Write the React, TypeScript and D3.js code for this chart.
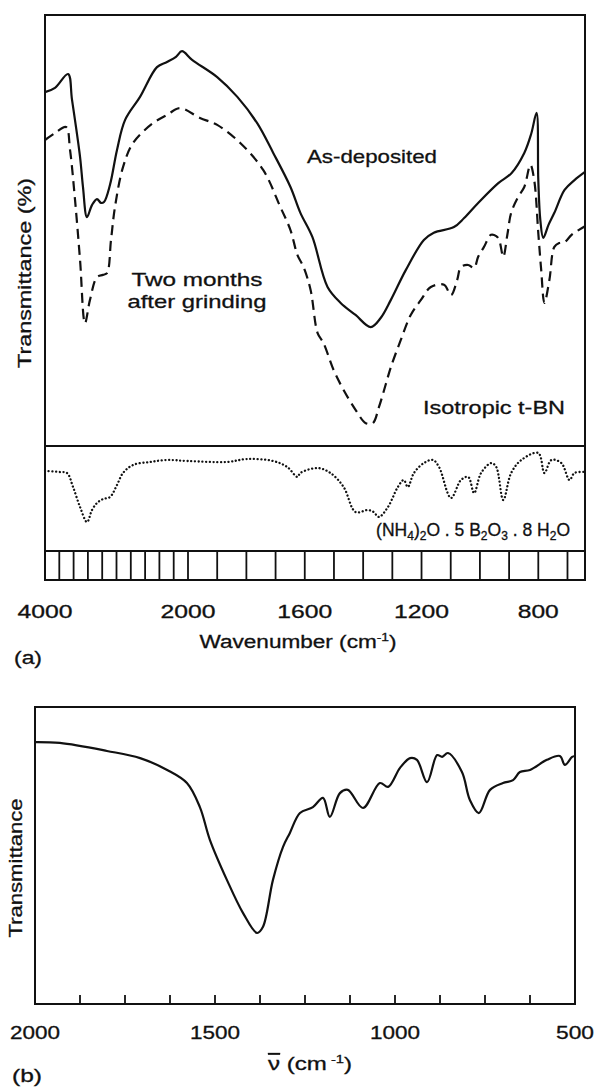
import React from 'react';
import * as d3 from 'd3';

// ---- Panel (a): IR spectra of t-BN, transmittance in relative units per sub-panel ----
const asDepositedWn = [4000, 3860, 3678, 3622, 3510, 3469, 3413, 3343, 3273, 3217, 3175, 3091, 2993, 2881, 2671, 2434, 2294, 2168, 2084, 1986, 1900, 1831, 1763, 1708, 1649, 1615, 1574, 1522, 1477, 1426, 1374, 1340, 1305, 1254, 1192, 1158, 1089, 1054, 1006, 937, 892, 848, 824, 806, 800, 793, 783, 765, 745, 710, 676, 640];
const asDepositedT = [82.1, 83.1, 86.3, 80.3, 67.1, 60.1, 53.1, 55.9, 57.3, 56.4, 56.6, 60.6, 68.7, 75.6, 81.0, 87.9, 89.1, 90.3, 91.6, 89.6, 85.6, 81.0, 74.9, 68.0, 60.1, 54.1, 48.5, 36.9, 33.2, 30.4, 27.6, 29.7, 33.9, 40.8, 47.8, 49.5, 50.8, 52.9, 56.4, 61.0, 63.3, 68.0, 72.5, 77.3, 61.7, 52.4, 48.3, 51.3, 54.1, 59.4, 61.7, 63.6];

const groundWn = [4000, 3860, 3706, 3650, 3580, 3510, 3441, 3371, 3273, 3189, 3133, 3077, 3021, 2909, 2769, 2490, 2294, 2112, 1959, 1900, 1821, 1742, 1684, 1649, 1625, 1604, 1580, 1556, 1536, 1501, 1467, 1426, 1391, 1367, 1346, 1323, 1305, 1271, 1237, 1202, 1168, 1123, 1099, 1078, 1065, 1040, 1020, 1006, 986, 962, 944, 934, 920, 906, 893, 869, 848, 827, 814, 800, 790, 779, 762, 745, 728, 710, 686, 662, 640];
const groundT = [71.0, 72.6, 74.0, 68.7, 57.1, 43.2, 28.5, 33.9, 39.2, 39.7, 40.1, 47.8, 55.5, 64.7, 70.3, 74.9, 76.8, 78.4, 76.1, 74.5, 70.3, 64.0, 55.5, 50.1, 44.3, 41.5, 36.2, 26.2, 23.9, 17.6, 13.0, 8.4, 5.3, 5.3, 9.0, 14.2, 18.3, 24.6, 30.4, 33.9, 36.9, 37.4, 35.0, 38.5, 41.5, 42.0, 41.3, 43.9, 46.2, 49.0, 48.7, 47.8, 43.9, 49.0, 54.1, 57.8, 60.1, 65.2, 61.7, 49.4, 40.8, 33.2, 38.5, 46.2, 47.1, 47.3, 49.0, 50.1, 51.0];

// Reference spectrum of ammonium pentaborate octahydrate
const boratWn = [4000, 3790, 3692, 3608, 3510, 3413, 3343, 3273, 3189, 3091, 2993, 2909, 2769, 2532, 2294, 2000, 1866, 1797, 1708, 1660, 1625, 1615, 1556, 1512, 1467, 1426, 1384, 1364, 1346, 1315, 1281, 1261, 1247, 1226, 1192, 1161, 1140, 1099, 1065, 1040, 1020, 996, 961, 944, 920, 893, 858, 800, 779, 755, 721, 693, 676, 640];
const boratT = [76.2, 75.2, 74.3, 61.0, 41.9, 27.6, 39.0, 45.7, 49.5, 51.4, 62.9, 74.3, 81.9, 84.8, 86.7, 85.7, 84.8, 87.6, 85.7, 80.0, 70.5, 74.3, 79.0, 74.3, 61.0, 37.1, 39.0, 37.1, 32.4, 41.9, 61.0, 67.6, 61.0, 74.3, 83.8, 86.7, 80.0, 50.5, 67.6, 70.5, 55.2, 74.3, 83.8, 80.0, 48.6, 74.3, 86.7, 93.3, 74.3, 86.7, 83.8, 67.6, 74.3, 75.2];

const tickLabelsA = [4000, 2000, 1600, 1200, 800];
const chartTicksHigh = [4000, 3800, 3600, 3400, 3200, 3000, 2800, 2600, 2400, 2200, 2000];
const chartTicksLow = [1900, 1800, 1700, 1600, 1500, 1400, 1300, 1200, 1100, 1000, 900, 800, 700];

// ---- Panel (b): single IR spectrum ----
const spectrumBWn = [2000, 1931, 1800, 1708, 1633, 1578, 1542, 1514, 1467, 1422, 1383, 1367, 1339, 1311, 1292, 1264, 1228, 1200, 1181, 1153, 1131, 1089, 1042, 1019, 986, 958, 939, 911, 883, 869, 853, 814, 792, 767, 736, 700, 672, 653, 625, 578, 542, 528, 508, 500];
const spectrumBT = [88.2, 87.9, 85.2, 82.8, 78.8, 74.4, 66.3, 55.2, 41.8, 30.6, 23.9, 25.9, 41.8, 52.9, 57.6, 64.3, 66.3, 69.4, 63.0, 71.0, 72.1, 66.0, 74.4, 73.1, 79.5, 82.8, 82.2, 74.7, 83.8, 83.2, 84.5, 78.1, 68.7, 64.3, 72.1, 74.4, 75.4, 78.1, 78.8, 82.2, 83.5, 80.5, 83.2, 83.5];

const tickLabelsB = [2000, 1500, 1000, 500];
const tickMarksB = [1875, 1750, 1625, 1500, 1375, 1250, 1125, 1000, 875, 750, 625];

const FONT = '"Liberation Sans", Arial, Helvetica, sans-serif';
const INK = '#111';

const A = { left: 45, right: 585, top: 15, mid: 446, strip: 551, bottom: 580 };
const B = { left: 35, right: 575, top: 707, bottom: 1004 };

// Wide sans lettering: each label is stretched to a set run length
function Label(props: {
  x: number;
  y: number;
  w?: number;
  size?: number;
  anchor?: 'start' | 'middle' | 'end';
  rotate?: boolean;
  children: React.ReactNode;
}) {
  const { x, y, w, size = 19, anchor = 'middle', rotate = false, children } = props;
  return (
    <text
      x={rotate ? 0 : x}
      y={rotate ? 0 : y}
      transform={rotate ? `translate(${x}, ${y}) rotate(-90)` : undefined}
      textAnchor={anchor}
      fontSize={size}
      fontFamily={FONT}
      fill={INK}
      stroke={INK}
      strokeWidth={0.3}
      textLength={w}
      lengthAdjust={w ? 'spacingAndGlyphs' : undefined}
    >
      {children}
    </text>
  );
}

export default function App() {
  // Spectrometer chart paper: 4000-2000 compressed, 2000-640 expanded
  const xA = d3.scaleLinear().domain([4000, 2000, 640]).range([A.left, 188, A.right]);
  const yTop = d3.scaleLinear().domain([0, 100]).range([A.mid, A.top]);
  const yMid = d3.scaleLinear().domain([0, 100]).range([A.strip, A.mid]);
  const xB = d3.scaleLinear().domain([2000, 500]).range([B.left, B.right]);
  const yB = d3.scaleLinear().domain([0, 100]).range([B.bottom, B.top]);

  const lineOf = (xs: number[], ys: number[], sx: any, sy: any) =>
    d3
      .line<number>()
      .x((_, i) => sx(xs[i]))
      .y((_, i) => sy(ys[i]))
      .curve(d3.curveCatmullRom.alpha(0.5))(xs) as string;

  const solidPath = lineOf(asDepositedWn, asDepositedT, xA, yTop);
  const dashedPath = lineOf(groundWn, groundT, xA, yTop);
  const dottedPath = lineOf(boratWn, boratT, xA, yMid);
  const bPath = lineOf(spectrumBWn, spectrumBT, xB, yB);

  return (
    <svg
      width={595}
      height={1089}
      viewBox="0 0 595 1089"
      style={{ position: 'absolute', left: 0, top: 0, background: '#fff' }}
    >
      {/* ---------- Panel (a) ---------- */}
      <g fill="none" stroke={INK} strokeWidth={2}>
        <rect x={A.left} y={A.top} width={A.right - A.left} height={A.bottom - A.top} />
        <line x1={A.left} x2={A.right} y1={A.mid} y2={A.mid} />
        <line x1={A.left} x2={A.right} y1={A.strip} y2={A.strip} />
        {[...chartTicksHigh, ...chartTicksLow].map((t) => (
          <line key={t} x1={xA(t)} x2={xA(t)} y1={A.strip} y2={A.bottom} strokeWidth={1.8} />
        ))}
      </g>

      <path d={solidPath} fill="none" stroke={INK} strokeWidth={2.2} strokeLinejoin="round" />
      <path d={dashedPath} fill="none" stroke={INK} strokeWidth={2.2} strokeDasharray="10 6" />
      <path
        d={dottedPath}
        fill="none"
        stroke={INK}
        strokeWidth={2.3}
        strokeLinecap="round"
        strokeDasharray="0.1 3.6"
      />

      {tickLabelsA.map((t) => (
        <Label key={t} x={xA(t)} y={618} w={String(t).length === 4 ? 55 : 41} size={18}>
          {t}
        </Label>
      ))}
      <Label x={298} y={648} w={197} size={18}>
        Wavenumber (cm<tspan fontSize={11} dy={-7}>-1</tspan>
        <tspan dy={7}>)</tspan>
      </Label>
      <Label x={14} y={664} w={28} size={18} anchor="start">(a)</Label>
      <Label x={31} y={273} w={190} rotate>
        Transmittance (%)
      </Label>

      <Label x={372} y={163} w={130}>As-deposited</Label>
      <Label x={197} y={286} w={131}>Two months</Label>
      <Label x={197} y={308} w={139}>after grinding</Label>
      <Label x={565} y={414} w={142} anchor="end">Isotropic t-BN</Label>
      <Label x={570} y={536} size={17.5} anchor="end">
        (NH<tspan fontSize={12} dy={4}>4</tspan>
        <tspan dy={-4}>)</tspan>
        <tspan fontSize={12} dy={4}>2</tspan>
        <tspan dy={-4}>O . 5 B</tspan>
        <tspan fontSize={12} dy={4}>2</tspan>
        <tspan dy={-4}>O</tspan>
        <tspan fontSize={12} dy={4}>3</tspan>
        <tspan dy={-4}> . 8 H</tspan>
        <tspan fontSize={12} dy={4}>2</tspan>
        <tspan dy={-4}>O</tspan>
      </Label>

      {/* ---------- Panel (b) ---------- */}
      <g fill="none" stroke={INK} strokeWidth={2}>
        <rect x={B.left} y={B.top} width={B.right - B.left} height={B.bottom - B.top} />
        {tickMarksB.map((t) => (
          <line key={t} x1={xB(t)} x2={xB(t)} y1={B.bottom} y2={B.bottom - 9} strokeWidth={1.8} />
        ))}
      </g>
      <path d={bPath} fill="none" stroke={INK} strokeWidth={2.2} strokeLinejoin="round" />

      {tickLabelsB.map((t) => (
        <Label key={t} x={xB(t)} y={1039} w={String(t).length === 4 ? 50 : 38} size={18}>
          {t}
        </Label>
      ))}
      <Label x={310} y={1070} w={84} size={18}>
        <tspan textDecoration="overline">ν</tspan> (cm<tspan fontSize={11} dy={-7}> -1</tspan>
        <tspan dy={7}>)</tspan>
      </Label>
      <Label x={12} y={1082} w={30} size={18} anchor="start">(b)</Label>
      <Label x={22} y={868} w={139} rotate>
        Transmittance
      </Label>
    </svg>
  );
}
